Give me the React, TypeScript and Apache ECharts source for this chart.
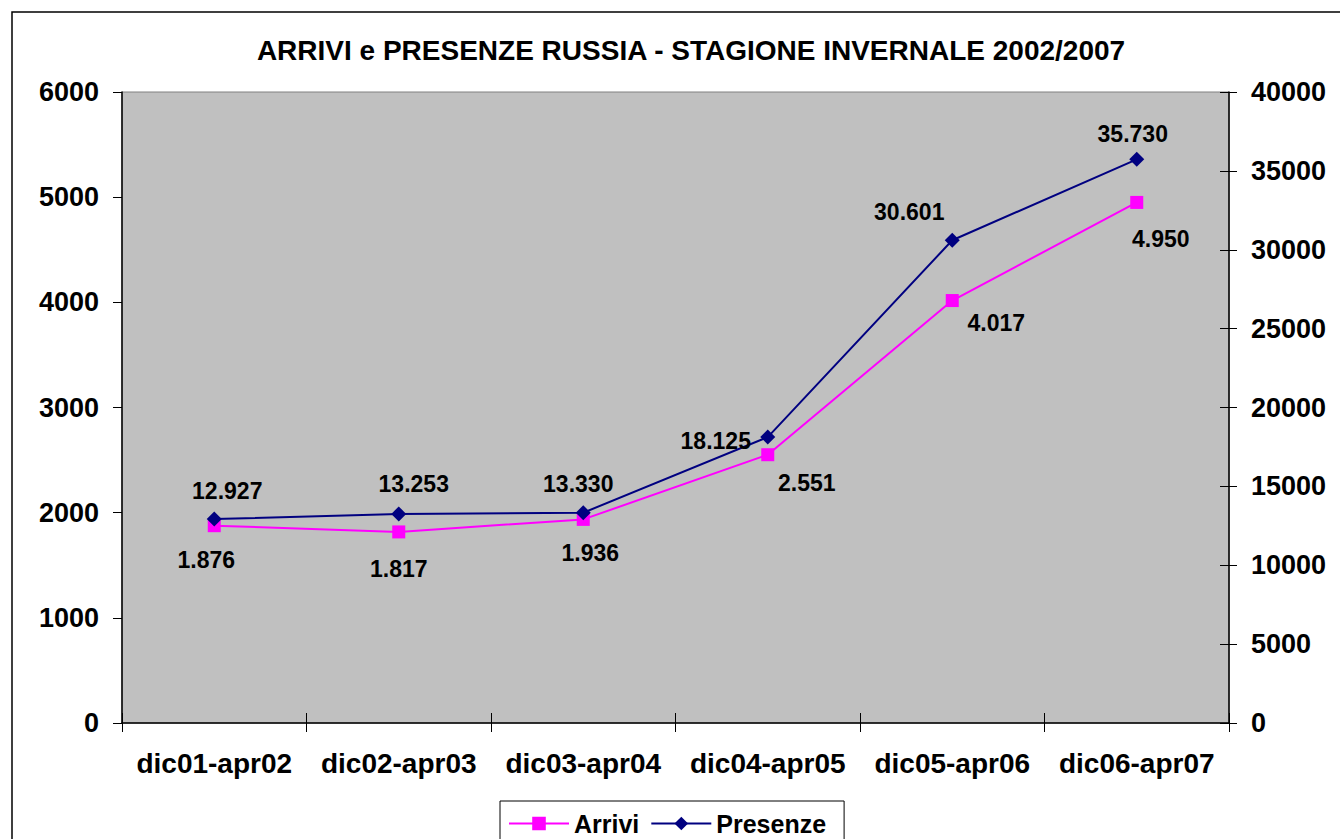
import React, { useEffect, useRef } from "react";
import * as echarts from "echarts";

const titleText = "ARRIVI e PRESENZE RUSSIA - STAGIONE INVERNALE 2002/2007";
const categories = ["dic01-apr02", "dic02-apr03", "dic03-apr04", "dic04-apr05", "dic05-apr06", "dic06-apr07"];
const arrivi = [1876, 1817, 1936, 2551, 4017, 4950];
const presenze = [12927, 13253, 13330, 18125, 30601, 35730];

// label offsets (px) relative to each point
const arriviLabelOffsets = [[-8, 34], [0, 37], [7, 34], [39, 28], [44, 22], [24, 37]];
const presenzeLabelOffsets = [[13, -28], [15, -30], [-5, -29], [-52, 4], [-43, -28], [-4, -25]];

const FONT = "'Liberation Sans', Arial, sans-serif";

const fmt = (v: number) => String(v).replace(/\B(?=(\d{3})+(?!\d))/g, ".");

export default function App() {
  const ref = useRef<HTMLDivElement>(null);
  useEffect(() => {
    if (!ref.current) return;
    const chart = echarts.init(ref.current, undefined, { renderer: "svg" });
    const labelStyle = {
      show: true,
      position: "inside" as const,
      fontFamily: FONT,
      fontWeight: "bold" as const,
      fontSize: 23,
      color: "#000",
      formatter: (p: any) => fmt(p.value),
    };
    chart.setOption({
      animation: false,
      backgroundColor: "#fff",
      graphic: [
        {
          type: "rect",
          shape: { x: 12, y: 12, width: 2000, height: 2000 },
          style: { fill: "none", stroke: "#000", lineWidth: 1.5 },
          silent: true,
          z: 0,
        },
        {
          type: "text",
          x: 691,
          y: 50,
          style: {
            text: titleText,
            fontFamily: FONT,
            fontWeight: "bold",
            fontSize: 28,
            fill: "#000",
            align: "center",
            verticalAlign: "middle",
          },
        },
      ],
      grid: {
        left: 122,
        right: 111,
        top: 92,
        bottom: 116,
        show: true,
        backgroundColor: "#C0C0C0",
        borderColor: "#808080",
        borderWidth: 1,
      },
      legend: {
        left: 500,
        top: 801,
        orient: "horizontal",
        backgroundColor: "#fff",
        borderColor: "#000",
        borderWidth: 1,
        borderRadius: 0,
        padding: [10, 18, 10, 8],
        itemWidth: 60,
        itemHeight: 17,
        itemGap: 11,
        textStyle: { fontFamily: FONT, fontWeight: "bold", fontSize: 25, color: "#000", lineHeight: 24 },
        data: ["Arrivi", "Presenze"],
      },
      xAxis: [
        {
          type: "category",
          data: categories,
          boundaryGap: true,
          position: "bottom",
          axisLine: { lineStyle: { color: "#000", width: 1.5 } },
          axisTick: { show: true, interval: 0, length: 9, lineStyle: { color: "#000" } },
          axisLabel: { interval: 0, margin: 26, fontFamily: FONT, fontWeight: "bold", fontSize: 28, color: "#000" },
          splitLine: { show: false },
        },
        {
          type: "category",
          data: categories,
          boundaryGap: true,
          position: "bottom",
          axisLine: { show: false },
          axisTick: { show: true, inside: true, interval: 0, length: 10, lineStyle: { color: "#000" } },
          axisLabel: { show: false },
          splitLine: { show: false },
        },
      ],
      yAxis: [
        {
          type: "value",
          min: 0,
          max: 6000,
          interval: 1000,
          position: "left",
          axisLine: { show: true, lineStyle: { color: "#000", width: 1.5 } },
          axisTick: { show: true, length: 9, lineStyle: { color: "#000" } },
          axisLabel: {
            margin: 23,
            fontFamily: FONT,
            fontWeight: "bold",
            fontSize: 27,
            color: "#000",
            formatter: (v: number) => String(v),
          },
          splitLine: { show: false },
        },
        {
          type: "value",
          min: 0,
          max: 40000,
          interval: 5000,
          position: "right",
          axisLine: { show: true, lineStyle: { color: "#000", width: 1.5 } },
          axisTick: { show: true, length: 8, lineStyle: { color: "#000" } },
          axisLabel: {
            margin: 22,
            fontFamily: FONT,
            fontWeight: "bold",
            fontSize: 27,
            color: "#000",
            formatter: (v: number) => String(v),
          },
          splitLine: { show: false },
        },
        {
          type: "value",
          min: 0,
          max: 40000,
          interval: 5000,
          position: "right",
          axisLine: { show: false },
          axisTick: { show: true, inside: true, length: 9, lineStyle: { color: "#000" } },
          axisLabel: { show: false },
          splitLine: { show: false },
        },
      ],
      series: [
        {
          name: "Arrivi",
          type: "line",
          yAxisIndex: 0,
          symbol: "rect",
          symbolSize: 13,
          showAllSymbol: true,
          lineStyle: { color: "#FF00FF", width: 2 },
          itemStyle: { color: "#FF00FF" },
          data: arrivi.map((v, i) => ({
            value: v,
            label: { ...labelStyle, offset: arriviLabelOffsets[i] },
          })),
          label: labelStyle,
          z: 2,
        },
        {
          name: "Presenze",
          type: "line",
          yAxisIndex: 1,
          symbol: "diamond",
          symbolSize: 15,
          showAllSymbol: true,
          lineStyle: { color: "#000080", width: 2 },
          itemStyle: { color: "#000080" },
          data: presenze.map((v, i) => ({
            value: v,
            label: { ...labelStyle, offset: presenzeLabelOffsets[i] },
          })),
          label: labelStyle,
          z: 3,
        },
      ],
    });
    return () => chart.dispose();
  }, []);
  return (
    <div
      ref={ref}
      style={{ position: "fixed", left: 0, top: 0, width: 1340, height: 839 }}
    />
  );
}
